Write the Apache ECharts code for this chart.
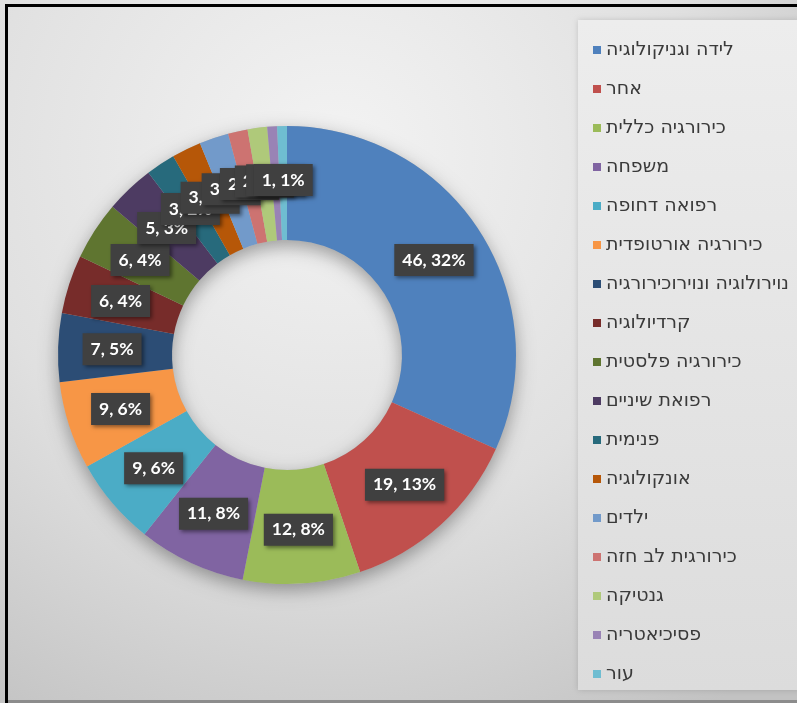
<!DOCTYPE html>
<html>
<head>
<meta charset="utf-8">
<script src="https://cdn.jsdelivr.net/npm/echarts@6/dist/echarts.min.js"></script>
<style>
  html, body { margin: 0; padding: 0; background: #ffffff; }
  #chart { width: 797px; height: 703px; }
</style>
</head>
<body>
<div id="chart"></div>
<script>
// Departments (legend order) and case counts
var categories = [
  'לידה וגניקולוגיה',
  'אחר',
  'כירורגיה כללית',
  'משפחה',
  'רפואה דחופה',
  'כירורגיה אורטופדית',
  'נוירולוגיה ונוירוכירורגיה',
  'קרדיולוגיה',
  'כירורגיה פלסטית',
  'רפואת שיניים',
  'פנימית',
  'אונקולוגיה',
  'ילדים',
  'כירורגית לב חזה',
  'גנטיקה',
  'פסיכיאטריה',
  'עור'
];
var counts = [46, 19, 12, 11, 9, 9, 7, 6, 6, 5, 3, 3, 3, 2, 2, 1, 1];
var colors = [
  '#4f81bd', '#c0504d', '#9bbb59', '#8064a2', '#4bacc6', '#f79646',
  '#2c4d75', '#772c2a', '#5f7530', '#4d3b62', '#276a7c', '#b65708',
  '#729aca', '#cd7371', '#afc97a', '#9983b5', '#6fbdd1'
];

var total = counts.reduce(function (a, b) { return a + b; }, 0);
var sliceData = categories.map(function (name, i) {
  return { name: name, value: counts[i], itemStyle: { color: colors[i] } };
});

var chart = echarts.init(document.getElementById('chart'));
chart.setOption({
  backgroundColor: {
    type: 'radial', x: 0.42, y: 0.22, r: 0.95,
    colorStops: [
      { offset: 0, color: '#f3f3f3' },
      { offset: 0.55, color: '#e0e0e0' },
      { offset: 1, color: '#c2c2c2' }
    ]
  },
  animation: false,
  graphic: [
    // legend panel
    {
      type: 'rect', z: -1,
      shape: { x: 578, y: 20, width: 222, height: 670 },
      style: {
        fill: {
          type: 'linear', x: 0, y: 0, x2: 0, y2: 1,
          colorStops: [
            { offset: 0, color: '#ededed' },
            { offset: 1, color: '#dcdcdc' }
          ]
        },
        shadowBlur: 6, shadowColor: 'rgba(0,0,0,0.15)'
      }
    },
    // frame
    { type: 'rect', shape: { x: 5, y: 4, width: 3, height: 699 }, style: { fill: '#000' } },
    { type: 'rect', shape: { x: 5, y: 4, width: 792, height: 3 }, style: { fill: '#000' } },
    { type: 'rect', shape: { x: 8, y: 700, width: 789, height: 3 }, style: { fill: '#8c8c8c' } }
  ],
  legend: {
    orient: 'vertical',
    left: 588,
    top: 35,
    icon: 'rect',
    itemWidth: 8,
    itemHeight: 8,
    itemGap: 19,
    data: categories,
    textStyle: {
      fontFamily: 'DejaVu Sans, sans-serif',
      fontSize: 19,
      lineHeight: 20,
      color: '#3a3a3a'
    }
  },
  series: [
    {
      // soft shadow beneath the ring
      type: 'pie',
      silent: true,
      center: [287, 355],
      radius: [115, 229],
      label: { show: false },
      labelLine: { show: false },
      data: [{ value: 1, name: '__ring', itemStyle: {
        color: '#bbbbbb', shadowBlur: 18, shadowColor: 'rgba(0,0,0,0.35)', shadowOffsetY: 6
      } }],
      z: 1
    },
    {
      type: 'pie',
      center: [287, 355],
      radius: [115, 229],
      startAngle: 90,
      clockwise: true,
      avoidLabelOverlap: false,
      labelLayout: { hideOverlap: false },
      itemStyle: { borderWidth: 0 },
      label: {
        show: true,
        position: 'inside',
        formatter: function (p) {
          return p.value + ', ' + Math.round(p.value / total * 100) + '%';
        },
        fontFamily: 'Lato, Open Sans, sans-serif',
        fontWeight: 'bold',
        fontSize: 17.5,
        color: '#ffffff',
        backgroundColor: '#404040',
        padding: [7, 8],
        shadowBlur: 4,
        shadowColor: 'rgba(0,0,0,0.45)',
        shadowOffsetX: 2,
        shadowOffsetY: 2
      },
      labelLine: { show: false },
      emphasis: { disabled: true },
      data: sliceData,
      z: 2
    }
  ]
});
</script>
</body>
</html>
